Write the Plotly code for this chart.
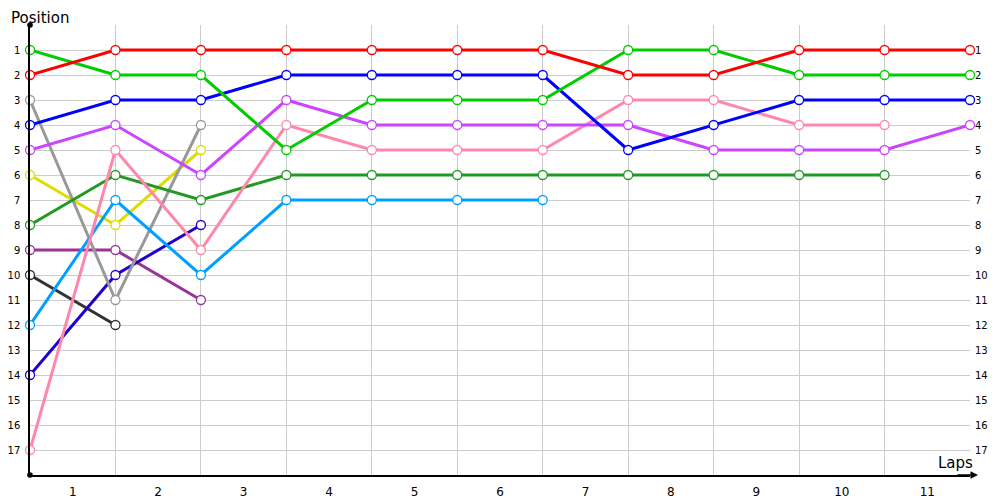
import plotly.graph_objects as go

laps = list(range(12))
lap_labels = [str(i) for i in range(1, 12)]
positions = list(range(1, 18))

red = [2, 1, 1, 1, 1, 1, 1, 2, 2, 1, 1, 1]
green = [1, 2, 2, 5, 3, 3, 3, 1, 1, 2, 2, 2]
blue = [4, 3, 3, 2, 2, 2, 2, 5, 4, 3, 3, 3]
violet = [5, 4, 6, 3, 4, 4, 4, 4, 5, 5, 5, 4]
pink = [17, 5, 9, 4, 5, 5, 5, 3, 3, 4, 4, None]
darkgreen = [8, 6, 7, 6, 6, 6, 6, 6, 6, 6, 6, None]
lightblue = [12, 7, 10, 7, 7, 7, 7, None, None, None, None, None]
gray = [3, 11, 4] + [None] * 9
yellow = [6, 8, 5] + [None] * 9
navy = [14, 10, 8] + [None] * 9
purple = [9, 9, 11] + [None] * 9
black = [10, 12] + [None] * 10

series = [
    ("black", black, "#333333"),
    ("purple", purple, "#993399"),
    ("navy", navy, "#2200cc"),
    ("yellow", yellow, "#dddd00"),
    ("gray", gray, "#999999"),
    ("lightblue", lightblue, "#00a0ff"),
    ("darkgreen", darkgreen, "#229922"),
    ("pink", pink, "#ff88aa"),
    ("violet", violet, "#cc44ff"),
    ("blue", blue, "#0000ff"),
    ("green", green, "#00cc00"),
    ("red", red, "#ff0000"),
]

fig = go.Figure()
for name, vals, col in series:
    fig.add_trace(go.Scatter(
        x=laps, y=vals, name=name, mode="lines+markers",
        line=dict(color=col, width=3),
        marker=dict(symbol="circle", size=9, color="white",
                    line=dict(color=col, width=1.3)),
        connectgaps=False, showlegend=False, hoverinfo="skip",
        cliponaxis=False,
    ))

# invisible trace on right axis to activate it
fig.add_trace(go.Scatter(x=[0], y=[1], yaxis="y2", mode="markers",
                         marker=dict(opacity=0), showlegend=False, hoverinfo="skip"))

font = "DejaVu Sans, Verdana, sans-serif"
fig.update_layout(
    width=992, height=492,
    margin=dict(l=22, r=30, t=17, b=25),
    plot_bgcolor="white", paper_bgcolor="white",
    font=dict(family=font, color="#000000"),
    xaxis=dict(
        range=[0, 11], tickmode="array", automargin=False,
        tickvals=[i + 0.5 for i in range(11)], ticktext=lap_labels,
        showgrid=False, zeroline=False, ticks="", ticklabelstandoff=5,
        tickfont=dict(size=12, color="#000"),
        showline=True, linecolor="#000", linewidth=1.5,
        minor=dict(tickmode="array", tickvals=laps, showgrid=True,
                   gridcolor="#cccccc", gridwidth=1, ticks=""),
    ),
    yaxis=dict(
        range=[18, 0], tickmode="array", tickvals=positions, automargin=False,
        ticktext=[str(p) for p in positions],
        showgrid=True, gridcolor="#cccccc", gridwidth=1, zeroline=False,
        ticks="", ticklabelstandoff=6, tickfont=dict(size=10, color="#000"),
        showline=True, linecolor="#000", linewidth=1.5,
    ),
    yaxis2=dict(
        range=[18, 0], tickmode="array", tickvals=positions, automargin=False,
        ticktext=[str(p) for p in positions], overlaying="y", side="right",
        showgrid=False, zeroline=False, ticks="", ticklabelstandoff=4,
        tickfont=dict(size=10, color="#000"), showline=False,
    ),
    annotations=[
        dict(text="Position", xref="paper", yref="paper", x=-0.0223, y=1.0,
             xanchor="left", yanchor="bottom", showarrow=False,
             font=dict(size=15, family=font, color="#000"), yshift=-4),
        dict(text="Laps", xref="paper", yref="paper", x=1.0053, y=0.0,
             xanchor="right", yanchor="bottom", showarrow=False,
             font=dict(size=15, family=font, color="#000"), yshift=1),
        dict(x=1.0085, y=0, xref="x domain", yref="y domain", ax=0.985, ay=0,
             axref="x domain", ayref="y domain", text="", showarrow=True,
             arrowhead=2, arrowsize=1, arrowwidth=1.5, arrowcolor="#000"),
    ],
    shapes=[
        dict(type="circle", xref="paper", yref="paper", x0=-0.003, x1=0.003,
             y0=0.994, y1=1.006, fillcolor="#000", line=dict(color="#000", width=0)),
        dict(type="circle", xref="paper", yref="paper", x0=-0.003, x1=0.003,
             y0=-0.006, y1=0.006, fillcolor="#000", line=dict(color="#000", width=0)),
    ],
)

fig.write_html("out.html")
